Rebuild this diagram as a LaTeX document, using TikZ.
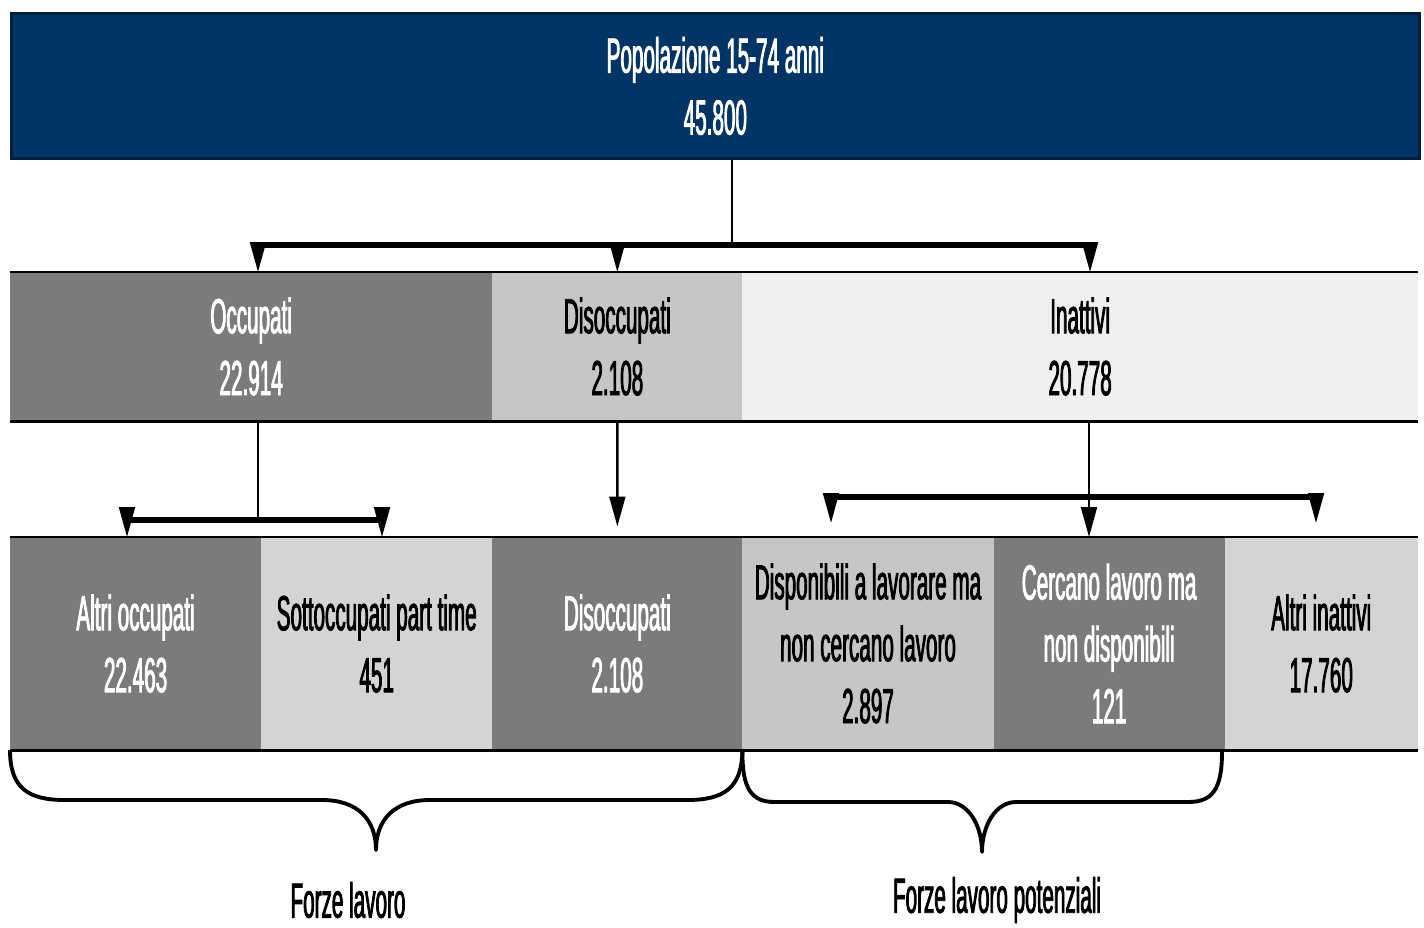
\documentclass[tikz,border=0pt]{standalone}
\usepackage{fontspec}
\setmainfont{Liberation Sans}[FakeStretch=0.42, FakeBold=1.6]
\usepackage{tikz}
\usetikzlibrary{positioning, arrows.meta}
\definecolor{navy}{HTML}{033466}
\definecolor{darkgrey}{HTML}{7B7B7B}
\definecolor{midgrey}{HTML}{C6C6C6}
\definecolor{lightgrey}{HTML}{D4D4D4}
\definecolor{palegrey}{HTML}{EFEFEF}

\begin{document}
\begin{tikzpicture}[
  x=0.01cm, y=-0.01cm,
  font=\fontsize{14}{17.6}\selectfont,
  every node/.style={align=center},
  popbox/.style={rectangle, fill=navy, draw=navy!60!black, line width=0.8pt,
                 text=white, inner sep=0pt, minimum width=14.07cm,
                 minimum height=1.45cm, anchor=north west},
  cell/.style={rectangle, inner sep=0pt, outer sep=0pt, minimum height=1.49cm,
               anchor=north west},
  tall/.style={cell, minimum height=2.13cm},
  dark/.style={fill=darkgrey, text=white},
  rule/.style={line width=0.8pt},
  link/.style={line width=0.7pt},
  bar/.style={line width=1.8pt},
  arr/.style={-{Triangle[length=8.5pt, width=4.5pt]}, line width=0.7pt},
  curly/.style={line width=1.1pt, line join=round},
  grouplabel/.style={inner sep=0pt}
]
\useasboundingbox (0,0) rectangle (1424,927);

% population
\node[popbox] (pop) at (10,12) {Popolazione 15-74 anni\\45.800};

% first split
\node[cell, dark, minimum width=4.82cm] (occ) at (10,272) {Occupati\\22.914};
\node[cell, fill=midgrey, text=black, minimum width=2.5cm, right=0pt of occ] (dis)
  {Disoccupati\\2.108};
\node[cell, fill=palegrey, text=black, minimum width=6.75cm, right=0pt of dis] (inat)
  {Inattivi\\20.778};
\draw[rule] (occ.north west) -- (inat.north east);
\draw[rule] (occ.south west) -- (inat.south east);

% second split
\node[tall, dark, minimum width=2.51cm] (altocc) at (10,537) {Altri occupati\\22.463};
\node[tall, fill=lightgrey, minimum width=2.31cm, right=0pt of altocc] (sotto)
  {Sottoccupati part time\\451};
\node[tall, dark, minimum width=2.5cm, right=0pt of sotto] (dis2) {Disoccupati\\2.108};
\node[tall, fill=midgrey, minimum width=2.51cm, right=0pt of dis2] (dispo)
  {Disponibili a lavorare ma\\non cercano lavoro\\2.897};
\node[tall, dark, minimum width=2.31cm, right=0pt of dispo] (cerc)
  {Cercano lavoro ma\\non disponibili\\121};
\node[tall, fill=lightgrey, minimum width=1.93cm, right=0pt of cerc] (altinat)
  {Altri inattivi\\17.760};
\draw[rule] (altocc.north west) -- (altinat.north east);
\draw[rule] (altocc.south west) -- (altinat.south east);

% population -> occupati / disoccupati / inattivi
\coordinate (popsplit) at (732,245);
\coordinate (barL) at (258,245);
\coordinate (barR) at (1090,245);
\draw[link] (popsplit |- pop.south) -- (popsplit);
\draw[bar] (barL) -- (barR);
\draw[arr] (barL) -- (barL |- occ.north);
\draw[arr] (dis.north |- barL) -- (dis.north);
\draw[arr] (barR) -- (barR |- inat.north);

% occupati -> altri occupati / sottoccupati
\coordinate (occsplit) at (258,520);
\coordinate (occL) at (127,520);
\coordinate (occR) at (382,520);
\draw[link] (occsplit |- occ.south) -- (occsplit);
\draw[bar] (occL) -- (occR);
\draw[arr] (occL) -- (occL |- altocc.north);
\draw[arr] (occR) -- (occR |- sotto.north);

% disoccupati -> disoccupati
\draw[arr, shorten >=3pt] (dis.south) -- (dis2.north);

% inattivi -> three groups
\coordinate (inatsplit) at (1089,497);
\coordinate (inatL) at (831,497);
\coordinate (inatR) at (1316,497);
\draw[arr] (inatsplit |- inat.south) -- (inatsplit |- cerc.north);
\draw[bar] (inatL) -- (inatR);
\draw[arr, shorten >=4pt] (inatL) -- (inatL |- dispo.north);
\draw[arr, shorten >=4pt] (inatR) -- (inatR |- altinat.north);

% braces
\draw[curly] (altocc.south west) .. controls (10,788) and (28,800) .. (65,800)
  -- (322,800) .. controls (358,800) and (376,820) .. (376,850)
  .. controls (376,820) and (394,800) .. (430,800)
  -- (687,800) .. controls (724,800) and (742,788) .. (dis2.south east);
\draw[curly] (dispo.south west) .. controls (742,790) and (752,802) .. (775,802)
  -- (948,802) .. controls (968,802) and (982,825) .. (982,852)
  .. controls (982,825) and (996,802) .. (1016,802)
  -- (1188,802) .. controls (1212,802) and (1222,790) .. (1222,752);

\node[grouplabel] (fl) at (348,900) {Forze lavoro};
\node[grouplabel] (flp) at (997,900) {Forze lavoro potenziali};
\end{tikzpicture}
\end{document}
